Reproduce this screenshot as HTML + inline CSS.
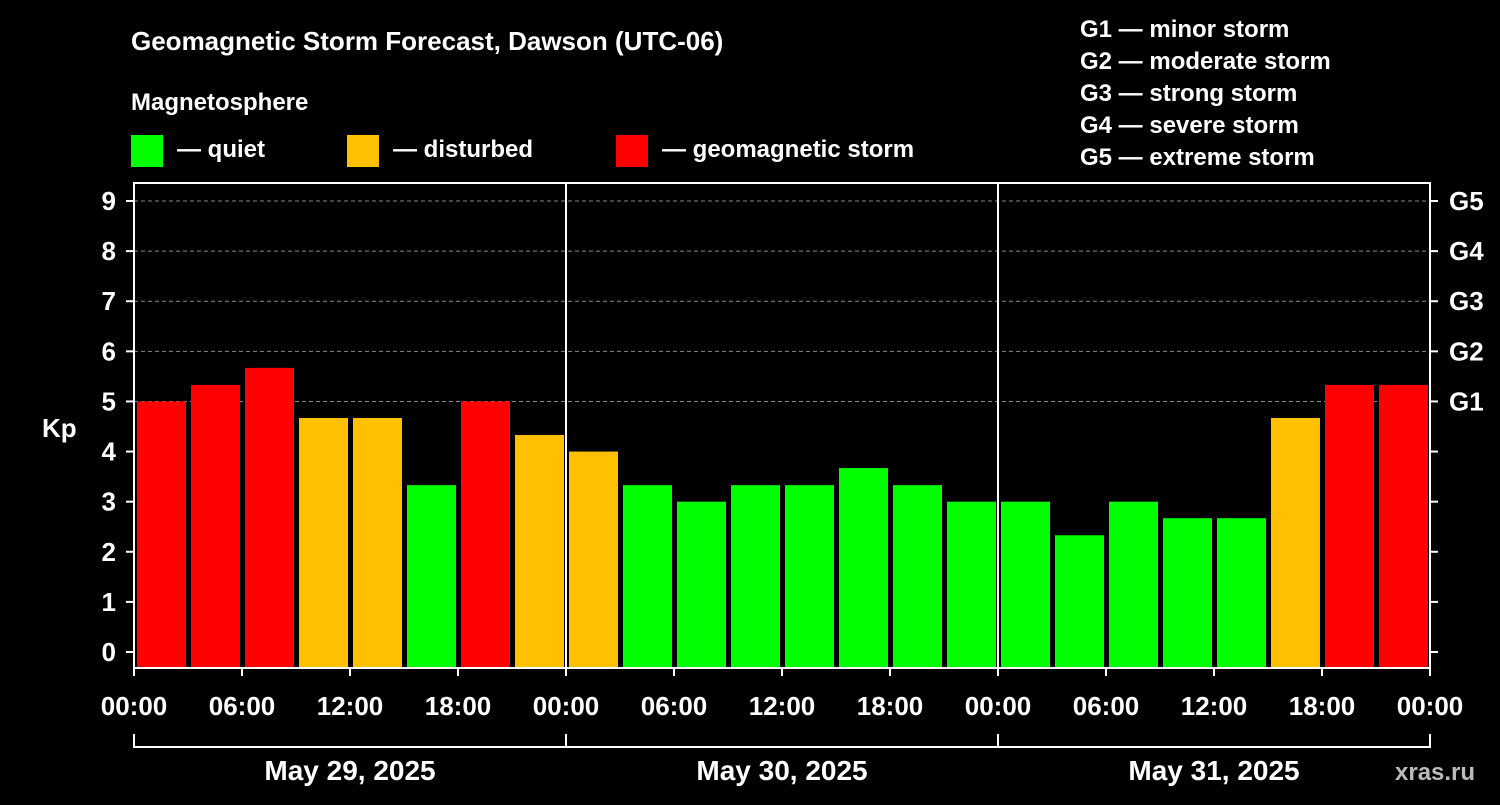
<!DOCTYPE html>
<html><head><meta charset="utf-8"><style>
body{margin:0;background:#000;width:1500px;height:800px;overflow:hidden}
svg text{font-family:"Liberation Sans",sans-serif;font-weight:bold;fill:#fff}
</style></head><body>
<svg width="1500" height="800">
<text x="131" y="50" font-size="26">Geomagnetic Storm Forecast, Dawson (UTC-06)</text>
<text x="131" y="110" font-size="24">Magnetosphere</text>
<g><rect x="131" y="135" width="32" height="32" fill="#00ff00"/><text x="177" y="157" font-size="24">— quiet</text></g>
<g><rect x="347" y="135" width="32" height="32" fill="#ffc000"/><text x="393" y="157" font-size="24">— disturbed</text></g>
<g><rect x="616" y="135" width="32" height="32" fill="#ff0000"/><text x="662" y="157" font-size="24">— geomagnetic storm</text></g>
<g font-size="24">
<text x="1080" y="37">G1 — minor storm</text><text x="1080" y="69">G2 — moderate storm</text><text x="1080" y="101">G3 — strong storm</text><text x="1080" y="133">G4 — severe storm</text><text x="1080" y="165">G5 — extreme storm</text></g>
<text x="42" y="437" font-size="26">Kp</text>
<g id="grid"></g><g id="bars"></g><g id="axes"></g>
<text x="1395" y="780" font-size="24" fill="#bbb" style="fill:#bbb">xras.ru</text>
</svg>
<script>
const kpValues=[5.0,5.33,5.67,4.67,4.67,3.33,5.0,4.33,4.0,3.33,3.0,3.33,3.33,3.67,3.33,3.0,3.0,2.33,3.0,2.67,2.67,4.67,5.33,5.33];
const yTicks=[0,1,2,3,4,5,6,7,8,9];
const gLabels=["G1","G2","G3","G4","G5"];
const xTickLabels=["00:00","06:00","12:00","18:00","00:00","06:00","12:00","18:00","00:00","06:00","12:00","18:00","00:00"];
const dayLabels=["May 29, 2025","May 30, 2025","May 31, 2025"];
const NS="http://www.w3.org/2000/svg";
const L=134,R=1430,T=183,B=668;
const y=v=>652-v*50.11;
const x=i=>L+i*(R-L)/kpValues.length;
function mk(tag,attrs,parent,txt){const e=document.createElementNS(NS,tag);for(const k in attrs)e.setAttribute(k,attrs[k]);if(txt!==undefined)e.textContent=txt;document.getElementById(parent).appendChild(e);return e;}
const col=v=>v>=5?"#ff0000":v>=4?"#ffc000":"#00ff00";
for(let k=5;k<=9;k++){const e=mk("line",{x1:L,x2:R,y1:y(k),y2:y(k),stroke:"#888","stroke-dasharray":"4,3"},"grid");

}
kpValues.forEach((v,i)=>{const e=mk("rect",{x:x(i)+3,y:y(v),width:(R-L)/kpValues.length-5,height:B-y(v),fill:col(v)},"bars");

});
const fr=mk("rect",{x:L,y:T,width:R-L,height:B-T,fill:"none",stroke:"#fff","stroke-width":2},"axes");


[1,2].forEach(d=>{const xx=L+d*(R-L)/3;const e=mk("line",{x1:xx,x2:xx,y1:T,y2:B,stroke:"#fff","stroke-width":2},"axes");

});
yTicks.forEach(t=>{mk("line",{x1:L-8,x2:L,y1:y(t),y2:y(t),stroke:"#fff","stroke-width":2},"axes");mk("line",{x1:R,x2:R+8,y1:y(t),y2:y(t),stroke:"#fff","stroke-width":2},"axes");
const e=mk("text",{x:L-18,y:y(t)+9,"font-size":26,"text-anchor":"end"},"axes",String(t));

});
gLabels.forEach((g,i)=>{const e=mk("text",{x:1449,y:y(5+i)+9,"font-size":26},"axes",g);

});
xTickLabels.forEach((s,i)=>{const xx=L+i*(R-L)/(xTickLabels.length-1);mk("line",{x1:xx,x2:xx,y1:B,y2:B+8,stroke:"#fff","stroke-width":2},"axes");
const e=mk("text",{x:xx,y:715,"font-size":26,"text-anchor":"middle"},"axes",s);

});
mk("line",{x1:L,x2:R,y1:747,y2:747,stroke:"#fff","stroke-width":2},"axes");
for(let d=0;d<=3;d++){const xx=L+d*(R-L)/3;mk("line",{x1:xx,x2:xx,y1:734,y2:748,stroke:"#fff","stroke-width":2},"axes");}
dayLabels.forEach((s,d)=>{const e=mk("text",{x:L+(d+0.5)*(R-L)/3,y:780,"font-size":28,"text-anchor":"middle"},"axes",s);

});
</script>
</body></html>
